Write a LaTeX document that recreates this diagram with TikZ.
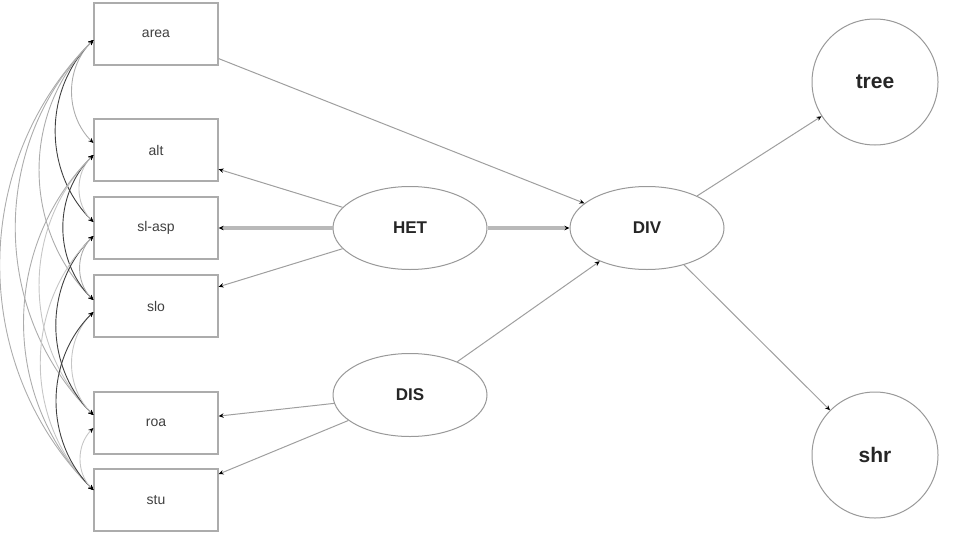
\documentclass[tikz,border=0pt]{standalone}
\usepackage{fontspec}
\setmainfont{Liberation Sans}
\usetikzlibrary{arrows.meta,shapes.geometric,calc}
\begin{document}
\begin{tikzpicture}[x=1pt,y=-1pt,
  >={Stealth[length=5pt,width=4.5pt,color=black]},
  manifest/.style={draw=gray!65,line width=1.3pt,fill=white,minimum width=124pt,minimum height=62pt,inner sep=0pt,font=\fontsize{14}{14}\selectfont,text=black!75},
  latent/.style={ellipse,draw=gray!80,line width=1pt,fill=white,minimum width=154pt,minimum height=83pt,inner sep=0pt,font=\bfseries\fontsize{17}{17}\selectfont,text=black!85},
  outcome/.style={circle,draw=gray!80,line width=1pt,fill=white,minimum size=126pt,inner sep=0pt,font=\bfseries\fontsize{21}{21}\selectfont,text=black!85},
  path/.style={->,draw=gray!75,line width=1pt},
  strong/.style={->,draw=gray!55,line width=3.5pt},
  cov/.style={<->,line width=0.9pt,bend right=45},
  covl/.style={cov,draw=gray!45},
  covm/.style={cov,draw=gray!65},
  covd/.style={cov,draw=black!75},
]
\useasboundingbox (0,0) rectangle (971,533);

% manifest variables
\node[manifest] (area)  at (156,34)  {area};
\node[manifest] (alt)   at (156,150) {alt};
\node[manifest] (slasp) at (156,228) {sl-asp};
\node[manifest] (slo)   at (156,306) {slo};
\node[manifest] (roa)   at (156,423) {roa};
\node[manifest] (stu)   at (156,500) {stu};

% latent variables
\node[latent] (het) at (410,228) {HET};
\node[latent] (dis) at (410,395) {DIS};
\node[latent] (div) at (647,228) {DIV};

% outcomes
\node[outcome] (tree) at (875,82)  {tree};
\node[outcome] (shr)  at (875,455) {shr};

% regressions
\draw[path] (area) -- (div);
\draw[path] (het) -- (alt);
\draw[strong] (het) -- (slasp);
\draw[path] (het) -- (slo);
\draw[strong] (het) -- (div);
\draw[path] (dis) -- (roa);
\draw[path] (dis) -- (stu);
\draw[path] (dis) -- (div);
\draw[path] (div) -- (tree);
\draw[path] (div) -- (shr);

% covariances
\draw[covm] ($(area.west)+(0,6)$) to ($(alt.west)+(0,-7)$);
\draw[covd] ($(area.west)+(0,6)$) to ($(slasp.west)+(0,-6)$);
\draw[covm] ($(area.west)+(0,6)$) to ($(slo.west)+(0,-6)$);
\draw[covm] ($(area.west)+(0,6)$) to ($(roa.west)+(0,-8)$);
\draw[covm] ($(area.west)+(0,6)$) to ($(stu.west)+(0,-10)$);
\draw[covl] ($(alt.west)+(0,5)$) to ($(slasp.west)+(0,-6)$);
\draw[covd] ($(alt.west)+(0,5)$) to ($(slo.west)+(0,-6)$);
\draw[covl] ($(alt.west)+(0,5)$) to ($(roa.west)+(0,-8)$);
\draw[covm] ($(alt.west)+(0,5)$) to ($(stu.west)+(0,-10)$);
\draw[covm] ($(slasp.west)+(0,8)$) to ($(slo.west)+(0,-6)$);
\draw[covd] ($(slasp.west)+(0,8)$) to ($(roa.west)+(0,-8)$);
\draw[covl] ($(slasp.west)+(0,8)$) to ($(stu.west)+(0,-10)$);
\draw[covl] ($(slo.west)+(0,6)$) to ($(roa.west)+(0,-8)$);
\draw[covd] ($(slo.west)+(0,6)$) to ($(stu.west)+(0,-10)$);
\draw[covl] ($(roa.west)+(0,5)$) to ($(stu.west)+(0,-10)$);
\end{tikzpicture}
\end{document}
